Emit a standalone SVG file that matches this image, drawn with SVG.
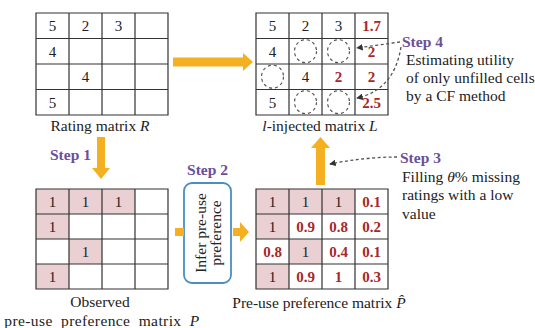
<svg xmlns="http://www.w3.org/2000/svg" width="535" height="328" viewBox="0 0 535 328">
  <style>
    .grid { fill: none; stroke: #333; stroke-width: 1.2; }
    .cell { fill: #fff; }
    .pink { fill: #ead0d2; }
    .num { font-family: "Liberation Serif", serif; font-size: 15px; fill: #222; text-anchor: middle; }
    .red { fill: #a8282a; font-weight: bold; }
    .lbl { font-family: "Liberation Serif", serif; font-size: 15.5px; fill: #222; }
    .step { font-family: "Liberation Serif", serif; font-size: 15.5px; font-weight: bold; fill: #6a4f9c; }
    .hole { fill: none; stroke: #555; stroke-width: 1.2; stroke-dasharray: 3 3; }
    .dash { fill: none; stroke: #555; stroke-width: 1.3; stroke-dasharray: 3 2.5; }
    .orange { fill: #f4b021; }
  </style>
  <defs>
    <marker id="tip" viewBox="0 0 8 8" refX="7" refY="4" markerWidth="5" markerHeight="5" orient="auto">
      <path d="M0,0 L8,4 L0,8 Z" fill="#333"/>
    </marker>
  </defs>

  <!-- Rating matrix R -->
  <g id="matrix-R">
    <rect x="36" y="13" width="132" height="102" class="cell"/>
    <path class="grid" d="M36,13 H168 V115 H36 Z M69,13 V115 M102,13 V115 M135,13 V115 M36,38.5 H168 M36,64 H168 M36,89.5 H168"/>
    <text class="num" x="52.5" y="31">5</text>
    <text class="num" x="85.5" y="31">2</text>
    <text class="num" x="118.5" y="31">3</text>
    <text class="num" x="52.5" y="56.5">4</text>
    <text class="num" x="85.5" y="82">4</text>
    <text class="num" x="52.5" y="107.5">5</text>
    <text class="lbl" x="100" y="131" text-anchor="middle">Rating matrix <tspan font-style="italic">R</tspan></text>
  </g>

  <!-- l-injected matrix L -->
  <g id="matrix-L">
    <rect x="256" y="13" width="132" height="102" class="cell"/>
    <path class="grid" d="M256,13 H388 V115 H256 Z M289,13 V115 M322,13 V115 M355,13 V115 M256,38.5 H388 M256,64 H388 M256,89.5 H388"/>
    <text class="num" x="272.5" y="31">5</text>
    <text class="num" x="305.5" y="31">2</text>
    <text class="num" x="338.5" y="31">3</text>
    <text class="num red" x="371.5" y="31">1.7</text>
    <text class="num" x="272.5" y="56.5">4</text>
    <text class="num red" x="371.5" y="56.5">2</text>
    <text class="num" x="305.5" y="82">4</text>
    <text class="num red" x="338.5" y="82">2</text>
    <text class="num red" x="371.5" y="82">2</text>
    <text class="num" x="272.5" y="107.5">5</text>
    <text class="num red" x="371.5" y="107.5">2.5</text>
    <ellipse class="hole" cx="305.5" cy="51.2" rx="11" ry="11.5"/>
    <ellipse class="hole" cx="338.5" cy="51.2" rx="11" ry="11.5"/>
    <ellipse class="hole" cx="272.5" cy="76.7" rx="11" ry="11.5"/>
    <ellipse class="hole" cx="305.5" cy="102.2" rx="11" ry="11.5"/>
    <ellipse class="hole" cx="338.5" cy="102.2" rx="11" ry="11.5"/>
    <text class="lbl" x="320" y="131" text-anchor="middle"><tspan font-style="italic">l</tspan>-injected matrix <tspan font-style="italic">L</tspan></text>
  </g>

  <!-- Observed pre-use preference matrix P -->
  <g id="matrix-P">
    <rect x="36" y="189" width="132" height="100" class="cell"/>
    <rect x="36" y="189" width="99" height="25" class="pink"/>
    <rect x="36" y="214" width="33" height="25" class="pink"/>
    <rect x="69" y="239" width="33" height="25" class="pink"/>
    <rect x="36" y="264" width="33" height="25" class="pink"/>
    <path class="grid" d="M36,189 H168 V289 H36 Z M69,189 V289 M102,189 V289 M135,189 V289 M36,214 H168 M36,239 H168 M36,264 H168"/>
    <text class="num" x="52.5" y="206.5">1</text>
    <text class="num" x="85.5" y="206.5">1</text>
    <text class="num" x="118.5" y="206.5">1</text>
    <text class="num" x="52.5" y="231.5">1</text>
    <text class="num" x="85.5" y="256.5">1</text>
    <text class="num" x="52.5" y="281.5">1</text>
    <text class="lbl" x="100" y="307" text-anchor="middle">Observed</text>
    <text class="lbl" x="102" y="326" text-anchor="middle" word-spacing="4" letter-spacing="0.4">pre-use preference  matrix <tspan font-style="italic">P</tspan></text>
  </g>

  <!-- Pre-use preference matrix P-hat -->
  <g id="matrix-Phat">
    <rect x="256" y="189" width="132" height="100" class="cell"/>
    <rect x="256" y="189" width="99" height="25" class="pink"/>
    <rect x="256" y="214" width="33" height="25" class="pink"/>
    <rect x="289" y="239" width="33" height="25" class="pink"/>
    <rect x="256" y="264" width="33" height="25" class="pink"/>
    <path class="grid" d="M256,189 H388 V289 H256 Z M289,189 V289 M322,189 V289 M355,189 V289 M256,214 H388 M256,239 H388 M256,264 H388"/>
    <text class="num" x="272.5" y="206.5">1</text>
    <text class="num" x="305.5" y="206.5">1</text>
    <text class="num" x="338.5" y="206.5">1</text>
    <text class="num red" x="371.5" y="206.5">0.1</text>
    <text class="num" x="272.5" y="231.5">1</text>
    <text class="num red" x="305.5" y="231.5">0.9</text>
    <text class="num red" x="338.5" y="231.5">0.8</text>
    <text class="num red" x="371.5" y="231.5">0.2</text>
    <text class="num red" x="272.5" y="256.5">0.8</text>
    <text class="num" x="305.5" y="256.5">1</text>
    <text class="num red" x="338.5" y="256.5">0.4</text>
    <text class="num red" x="371.5" y="256.5">0.1</text>
    <text class="num" x="272.5" y="281.5">1</text>
    <text class="num red" x="305.5" y="281.5">0.9</text>
    <text class="num red" x="338.5" y="281.5">1</text>
    <text class="num red" x="371.5" y="281.5">0.3</text>
    <text class="lbl" x="319" y="308" text-anchor="middle">Pre-use preference  matrix <tspan font-style="italic">P̂</tspan></text>
  </g>

  <!-- Step 2 process box -->
  <g id="step2-box">
    <rect x="184" y="183" width="47" height="100" rx="8" ry="8" fill="#fff" stroke="#4a8ec2" stroke-width="1.8"/>
    <text class="lbl" transform="translate(206,233) rotate(-90)" text-anchor="middle">Infer pre-use</text>
    <text class="lbl" transform="translate(221,233) rotate(-90)" text-anchor="middle">preference</text>
  </g>

  <!-- Step annotations -->
  <g id="step1-label">
    <text class="step" x="50" y="160">Step 1</text>
  </g>
  <g id="step2-label">
    <text class="step" x="207.5" y="175" text-anchor="middle">Step 2</text>
  </g>
  <g id="step3-label">
    <text class="step" x="400" y="163">Step 3</text>
    <text class="lbl" x="402" y="182">Filling <tspan font-style="italic">θ</tspan>% missing</text>
    <text class="lbl" x="402" y="200">ratings with a low</text>
    <text class="lbl" x="402" y="219">value</text>
  </g>
  <g id="step4-label">
    <text class="step" x="402" y="47">Step 4</text>
    <text class="lbl" x="406" y="65">Estimating utility</text>
    <text class="lbl" x="406" y="83">of only unfilled cells</text>
    <text class="lbl" x="406" y="101">by a CF method</text>
  </g>

  <!-- Connectors -->
  <g id="connectors">
    <!-- R to L -->
    <path class="orange" d="M173,57.5 H243 V53 L253,62 L243,71 V66.5 H173 Z"/>
    <!-- R to P (Step 1) -->
    <path class="orange" d="M97,137 H105 V168 H110 L101,179 L92,168 H97 Z"/>
    <!-- P into Step 2 box -->
    <rect class="orange" x="175" y="228" width="9" height="8"/>
    <!-- Step 2 box to P-hat -->
    <path class="orange" d="M233,228 H240 V222 L249,232 L240,242 V236 H233 Z"/>
    <!-- P-hat up to L (Step 3) -->
    <path class="orange" d="M316,185 V148 H311 L320.5,137 L330,148 H325 V185 Z"/>
    <!-- dashed callouts -->
    <path class="dash" d="M397,157 Q365,157 330,164" marker-end="url(#tip)"/>
    <path class="dash" d="M400,42 L357,48" marker-end="url(#tip)"/>
    <path class="dash" d="M401,47 Q394,90 357,98" marker-end="url(#tip)"/>
  </g>
</svg>
